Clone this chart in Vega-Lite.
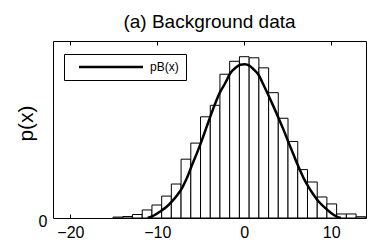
{
  "$schema": "https://vega.github.io/schema/vega-lite/v6.json",
  "width": 313,
  "height": 177,
  "autosize": "none",
  "padding": {"left": 53, "top": 41, "right": 16, "bottom": 26},
  "background": "white",
  "config": {
    "view": {"stroke": "black", "strokeWidth": 1},
    "font": "Liberation Sans",
    "axis": {"domain": false, "grid": false, "labelColor": "black", "tickColor": "black", "titleColor": "black", "labelFont": "Liberation Sans", "titleFont": "Liberation Sans"}
  },
  "title": {"text": "(a) Background data", "fontSize": 19, "fontWeight": "normal", "color": "black", "font": "Liberation Sans", "offset": 9},
  "resolve": {"axis": {"x": "independent"}},
  "datasets": {
    "hist": [
      {"x0": -15.09, "x1": -13.97, "p": 0.0005},
      {"x0": -13.97, "x1": -12.86, "p": 0.0008},
      {"x0": -12.86, "x1": -11.74, "p": 0.0019},
      {"x0": -11.74, "x1": -10.62, "p": 0.0044},
      {"x0": -10.62, "x1": -9.50, "p": 0.0071},
      {"x0": -9.50, "x1": -8.39, "p": 0.0120},
      {"x0": -8.39, "x1": -7.27, "p": 0.0186},
      {"x0": -7.27, "x1": -6.15, "p": 0.0322},
      {"x0": -6.15, "x1": -5.03, "p": 0.0410},
      {"x0": -5.03, "x1": -3.91, "p": 0.0554},
      {"x0": -3.91, "x1": -2.80, "p": 0.0617},
      {"x0": -2.80, "x1": -1.68, "p": 0.0787},
      {"x0": -1.68, "x1": -0.56, "p": 0.0858},
      {"x0": -0.56, "x1": 0.56, "p": 0.0883},
      {"x0": 0.56, "x1": 1.68, "p": 0.0877},
      {"x0": 1.68, "x1": 2.80, "p": 0.0822},
      {"x0": 2.80, "x1": 3.91, "p": 0.0686},
      {"x0": 3.91, "x1": 5.03, "p": 0.0546},
      {"x0": 5.03, "x1": 6.15, "p": 0.0419},
      {"x0": 6.15, "x1": 7.27, "p": 0.0265},
      {"x0": 7.27, "x1": 8.39, "p": 0.0197},
      {"x0": 8.39, "x1": 9.50, "p": 0.0115},
      {"x0": 9.50, "x1": 10.62, "p": 0.0077},
      {"x0": 10.62, "x1": 11.74, "p": 0.0022},
      {"x0": 11.74, "x1": 12.86, "p": 0.0022},
      {"x0": 12.86, "x1": 13.97, "p": 0.0007}
    ],
    "curve": [
      {"x": -11.1, "p": 0},
      {"x": -10.4, "p": 0.00137},
      {"x": -9.66, "p": 0.00361},
      {"x": -8.9, "p": 0.00628},
      {"x": -8.31, "p": 0.00907},
      {"x": -7.7, "p": 0.01257},
      {"x": -7.16, "p": 0.01639},
      {"x": -6.6, "p": 0.02186},
      {"x": -6.0, "p": 0.02913},
      {"x": -5.4, "p": 0.03607},
      {"x": -4.86, "p": 0.04279},
      {"x": -4.3, "p": 0.05027},
      {"x": -3.7, "p": 0.05825},
      {"x": -2.76, "p": 0.06918},
      {"x": -2.2, "p": 0.07377},
      {"x": -1.61, "p": 0.07923},
      {"x": -1.0, "p": 0.08224},
      {"x": -0.46, "p": 0.08388},
      {"x": 0.05, "p": 0.08415},
      {"x": 0.6, "p": 0.08333},
      {"x": 1.0, "p": 0.08169},
      {"x": 1.6, "p": 0.07869},
      {"x": 2.22, "p": 0.07284},
      {"x": 2.8, "p": 0.06694},
      {"x": 3.37, "p": 0.06098},
      {"x": 3.95, "p": 0.05464},
      {"x": 4.52, "p": 0.04825},
      {"x": 5.1, "p": 0.04126},
      {"x": 5.67, "p": 0.03459},
      {"x": 6.25, "p": 0.02787},
      {"x": 6.82, "p": 0.02186},
      {"x": 7.4, "p": 0.01694},
      {"x": 7.97, "p": 0.01273},
      {"x": 8.55, "p": 0.00902},
      {"x": 9.11, "p": 0.00634},
      {"x": 9.7, "p": 0.00383},
      {"x": 10.26, "p": 0.0018},
      {"x": 10.7, "p": 0.00066},
      {"x": 11.1, "p": 0}
    ]
  },
  "layer": [
    {
      "data": {"name": "hist"},
      "mark": {"type": "rect", "fill": "white", "stroke": "black", "strokeWidth": 1},
      "encoding": {
        "x": {"field": "x0", "type": "quantitative", "scale": {"domain": [-22, 14], "nice": false, "zero": false},
              "axis": {"orient": "bottom", "values": [-20, -10, 0, 10], "title": null, "labelFontSize": 16, "tickSize": -4, "labelPadding": 10, "format": "d"}},
        "x2": {"field": "x1"},
        "y": {"field": "p", "type": "quantitative", "scale": {"domain": [0, 0.0969], "nice": false},
              "axis": {"values": [0], "title": "p(x)", "titleFontSize": 21, "titleFontWeight": "normal", "titlePadding": 2, "titleY": 82, "labelFontSize": 16, "labelOffset": 3, "tickSize": 0, "labelPadding": 6, "format": "d"}},
        "y2": {"datum": 0}
      }
    },
    {
      "data": {"name": "curve"},
      "mark": {"type": "line", "stroke": "black", "strokeWidth": 2.5, "interpolate": "monotone"},
      "encoding": {
        "x": {"field": "x", "type": "quantitative", "axis": {"orient": "top", "values": [-20, -10, 0, 10], "labels": false, "tickSize": -4, "title": null}},
        "y": {"field": "p", "type": "quantitative"},
        "color": {"datum": "pB(x)", "type": "nominal", "scale": {"range": ["black"]},
                  "legend": {"title": null, "orient": "none", "legendX": 11, "legendY": 13, "strokeColor": "black", "fillColor": "white", "padding": 7, "symbolType": "M-16,0H16", "symbolSize": 16, "symbolStrokeWidth": 2.5, "symbolStrokeColor": "black", "symbolFillColor": "transparent", "symbolOffset": 34, "labelOffset": 33, "labelFontSize": 12, "labelColor": "black", "labelFont": "Liberation Sans"}}
      }
    }
  ]
}
